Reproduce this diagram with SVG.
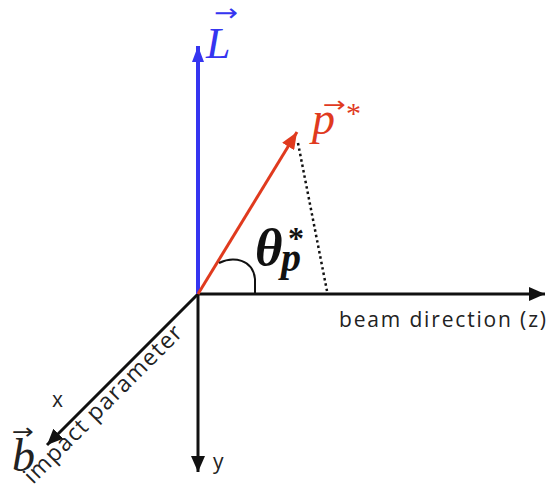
<svg xmlns="http://www.w3.org/2000/svg" width="550" height="484" viewBox="0 0 550 484">
<style>
.axis{stroke:#111;stroke-width:3;fill:none}
.lbl{font-family:"Open Sans","Liberation Sans",Arial,sans-serif;fill:#222}
.math{font-family:"Liberation Serif","Times New Roman",serif;font-style:italic}
.vec{font-family:"DejaVu Sans","Liberation Sans",sans-serif}
</style>
<defs>
<marker id="ahK" viewBox="0 0 10 10" refX="10" refY="5" markerUnits="userSpaceOnUse" markerWidth="16" markerHeight="14" preserveAspectRatio="none" orient="auto"><path d="M0,0 L10,5 L0,10 z" fill="#111"/></marker>
<marker id="ahB" viewBox="0 0 10 10" refX="10" refY="5" markerUnits="userSpaceOnUse" markerWidth="16" markerHeight="12" preserveAspectRatio="none" orient="auto"><path d="M0,0 L10,5 L0,10 z" fill="#3535f0"/></marker>
<marker id="ahR" viewBox="0 0 10 10" refX="10" refY="5" markerUnits="userSpaceOnUse" markerWidth="17" markerHeight="14" preserveAspectRatio="none" orient="auto"><path d="M0,0 L10,5 L0,10 z" fill="#e03a1e"/></marker>
</defs>
<rect width="550" height="484" fill="#fff"/>
<g id="connectors">
<line id="axis-z" class="axis" x1="197" y1="294" x2="545" y2="294" marker-end="url(#ahK)"/>
<line id="axis-y" class="axis" x1="198" y1="294" x2="198" y2="472" marker-end="url(#ahK)"/>
<line id="axis-x" class="axis" x1="198" y1="294" x2="47" y2="445" marker-end="url(#ahK)"/>
<line id="vec-L" x1="198" y1="294" x2="198" y2="46" stroke="#3535f0" stroke-width="4" marker-end="url(#ahB)"/>
<line id="vec-p" x1="198" y1="294" x2="297" y2="132" stroke="#e03a1e" stroke-width="3" marker-end="url(#ahR)"/>
<line id="proj" x1="298" y1="143" x2="327" y2="291" stroke="#111" stroke-width="2.5" stroke-dasharray="2.5 3"/>
<path id="angle-arc" d="M219,263 C233,256 253,259 255,279 L255,294" fill="none" stroke="#111" stroke-width="2"/>
</g>
<g id="label-L" fill="#3535f0">
<text class="vec" x="214" y="21" font-size="24" textLength="24" lengthAdjust="spacingAndGlyphs">→</text>
<text class="math" x="206" y="58" font-size="44">L</text>
</g>
<g id="label-p" fill="#e03a1e">
<text class="vec" x="323" y="112" font-size="22" textLength="23" lengthAdjust="spacingAndGlyphs">→</text>
<text class="math" x="312" y="134" font-size="46">p</text>
<text font-family="'Liberation Serif','Times New Roman',serif" x="346" y="123" font-size="30">*</text>
</g>
<g id="label-theta" fill="#111" font-family="'Liberation Serif','Times New Roman',serif" font-weight="bold" font-style="italic">
<text x="255" y="265" font-size="53">θ</text>
<text x="281" y="271" font-size="40">p</text>
<text x="288" y="249" font-size="32" font-style="normal">*</text>
</g>
<g id="label-b" fill="#222">
<text class="vec" x="12" y="439" font-size="22" textLength="22" lengthAdjust="spacingAndGlyphs">→</text>
<text class="math" x="12" y="471" font-size="46">b</text>
</g>
<g id="label-z"><text class="lbl" x="339" y="327" font-size="21" textLength="207">beam direction (z)</text></g>
<g id="label-y"><text class="lbl" x="213" y="469" font-size="21">y</text></g>
<g id="label-x"><text class="lbl" x="52" y="407" font-size="21">x</text></g>
<g id="label-impact"><text class="lbl" transform="translate(33,485) rotate(-45)" font-size="23" textLength="213">impact parameter</text></g>
</svg>
